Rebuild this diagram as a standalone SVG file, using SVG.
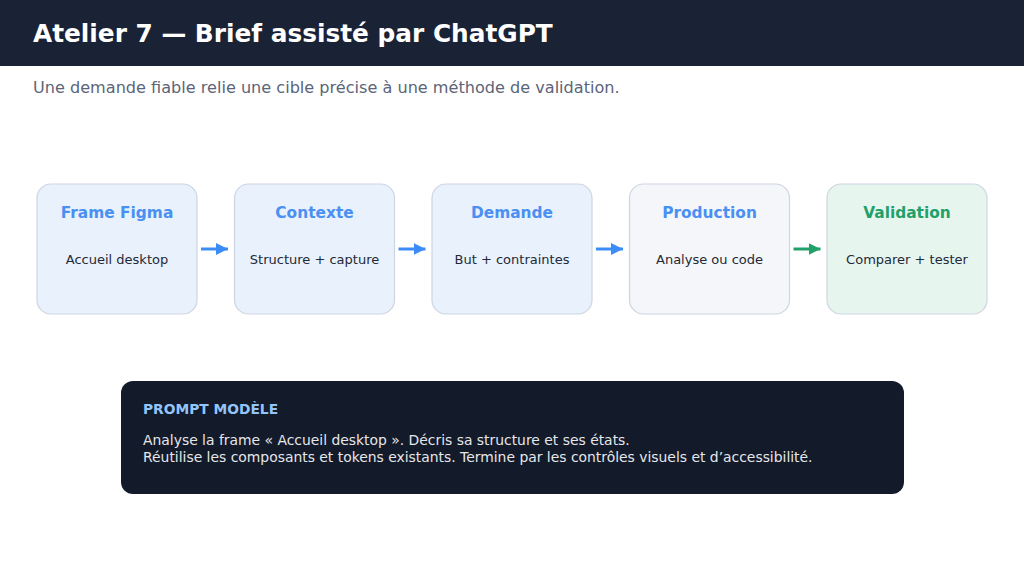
<svg xmlns="http://www.w3.org/2000/svg" width="1024" height="571" viewBox="0 0 1024 571">
<defs>
<style>
text{font-family:"DejaVu Sans","Liberation Sans",sans-serif}
.box{stroke:#cdd5e2;stroke-width:1.2}
.t{font-size:15.4px;font-weight:bold;text-anchor:middle}
.s{font-size:13px;fill:#1f2937;text-anchor:middle}
.blue{fill:#4a90f2}
.green{fill:#22a06b}
.ab{stroke:#3b8cf6;stroke-width:3;fill:none}
.ag{stroke:#22a06b;stroke-width:3;fill:none}
.p{font-size:13.9px;fill:#e5e7eb}
</style>
<marker id="mb" viewBox="0 0 12 12" refX="12" refY="6" markerWidth="4" markerHeight="4" orient="auto" markerUnits="strokeWidth"><path d="M0,0 L12,6 L0,12 z" fill="#3b8cf6"/></marker>
<marker id="mg" viewBox="0 0 12 12" refX="12" refY="6" markerWidth="4" markerHeight="4" orient="auto" markerUnits="strokeWidth"><path d="M0,0 L12,6 L0,12 z" fill="#22a06b"/></marker>
</defs>
<rect width="1024" height="571" fill="#ffffff"/>
<g id="header">
<rect x="0" y="0" width="1024" height="66" fill="#1a2236"/>
<text x="33" y="42" font-size="24.8" font-weight="bold" fill="#ffffff">Atelier 7 — Brief assisté par ChatGPT</text>
<text x="33" y="93" font-size="16.1" fill="#5b6478">Une demande fiable relie une cible précise à une méthode de validation.</text>
</g>
<g id="n1"><rect class="box" x="37" y="184" width="160" height="130" rx="14" fill="#e8f1fc"/><text class="t blue" x="117" y="218">Frame Figma</text><text class="s" x="117" y="264">Accueil desktop</text></g>
<g id="n2"><rect class="box" x="234.5" y="184" width="160" height="130" rx="14" fill="#e8f1fc"/><text class="t blue" x="314.5" y="218">Contexte</text><text class="s" x="314.5" y="264">Structure + capture</text></g>
<g id="n3"><rect class="box" x="432" y="184" width="160" height="130" rx="14" fill="#e8f1fc"/><text class="t blue" x="512" y="218">Demande</text><text class="s" x="512" y="264">But + contraintes</text></g>
<g id="n4"><rect class="box" x="629.5" y="184" width="160" height="130" rx="14" fill="#f4f6fa"/><text class="t blue" x="709.5" y="218">Production</text><text class="s" x="709.5" y="264">Analyse ou code</text></g>
<g id="n5"><rect class="box" x="827" y="184" width="160" height="130" rx="14" fill="#e7f5ef"/><text class="t green" x="907" y="218">Validation</text><text class="s" x="907" y="264">Comparer + tester</text></g>
<g id="connectors">
<line class="ab" x1="201" y1="249" x2="228" y2="249" marker-end="url(#mb)"/>
<line class="ab" x1="398.5" y1="249" x2="425.5" y2="249" marker-end="url(#mb)"/>
<line class="ab" x1="596" y1="249" x2="623" y2="249" marker-end="url(#mb)"/>
<line class="ag" x1="793.5" y1="249" x2="820.5" y2="249" marker-end="url(#mg)"/>
</g>
<g id="prompt">
<rect x="121" y="381" width="783" height="113" rx="12" fill="#131a29"/>
<text x="143" y="414" font-size="13.8" font-weight="bold" fill="#93c5fd">PROMPT MODÈLE</text>
<text class="p" x="143" y="445">Analyse la frame « Accueil desktop ». Décris sa structure et ses états.</text>
<text class="p" x="143" y="462">Réutilise les composants et tokens existants. Termine par les contrôles visuels et d’accessibilité.</text>
</g>
</svg>
